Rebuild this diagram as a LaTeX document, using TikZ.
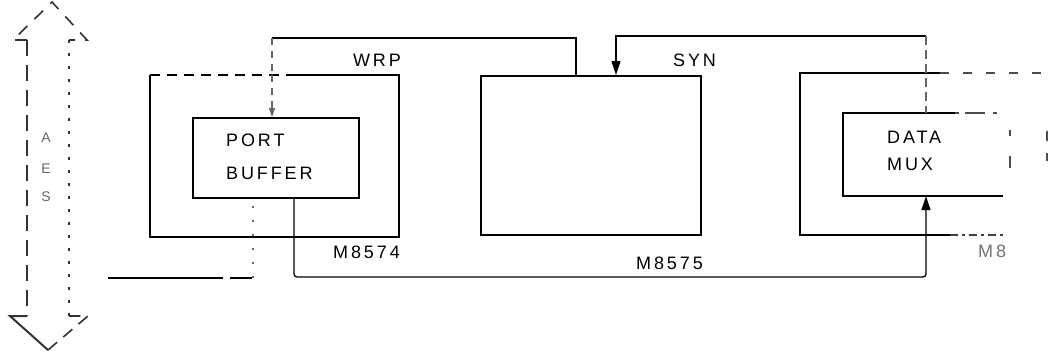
\documentclass[tikz,border=0pt]{standalone}
\usepackage{fontspec}
\setmainfont{Liberation Sans}
\usetikzlibrary{arrows.meta,calc}
\begin{document}
\begin{tikzpicture}[x=1pt,y=-1pt,
  box/.style={line width=2.1pt, inner sep=0pt, anchor=north west, minimum width=#1},
  boxline/.style={line width=2.1pt},
  sig/.style={line width=1.3pt},
  fadesig/.style={line width=1.2pt, draw=black!60, dash pattern=on 7pt off 6pt},
  lbl/.style={font=\fontsize{18}{20}\selectfont\addfontfeature{LetterSpace=16}, inner sep=0pt},
  faintlbl/.style={lbl, text=black!55},
  tip/.style={-{Triangle[length=14pt,width=9pt]}},
  bus/.style={line width=1.6pt, draw=black!80}
]
\useasboundingbox (0,0) rectangle (1053,360);

% ---- bus (double headed arrow shape) ----
\draw[bus, dash pattern=on 16pt off 9pt] (27,40) -- (27,316);
\draw[bus, line width=1.3pt, dash pattern=on 3pt off 10pt] (69,40) -- (69,316);
\draw[bus, dash pattern=on 12pt off 10pt] (27,40) -- (13,40) -- (52,2) -- (87,40) -- (69,40);
\draw[bus, line width=2pt] (27,316) -- (10,316) -- (48,350);
\draw[bus, dash pattern=on 12pt off 8pt] (48,350) -- (88,316) -- (69,316);
\node[font=\fontsize{14}{15}\selectfont, text=black!60, inner sep=0pt] (busA) at (46,138) {A};
\node[font=\fontsize{14}{15}\selectfont, text=black!60, inner sep=0pt] (busE) at (46,169) {E};
\node[font=\fontsize{14}{15}\selectfont, text=black!60, inner sep=0pt] (busS) at (46,197) {S};

% ---- M8574 ----
\node[box=247pt, minimum height=160pt] (m74) at (150,75) {};
\draw[boxline] ($(m74.north west)+(140,0)$) -- (m74.north east) -- (m74.south east) -- (m74.south west) -- (m74.north west);
\draw[boxline, dash pattern=on 10pt off 7pt] (m74.north west) -- ($(m74.north west)+(140,0)$);
\node[box=166pt, minimum height=80pt, draw] (pb) at (192,117) {};
\node[lbl, align=left, anchor=west, font=\fontsize{18}{33}\selectfont\addfontfeature{LetterSpace=16}] (pbt) at (226,157) {PORT\\BUFFER};
\node[lbl, anchor=east] (l74) at (400,252) {M8574};

% ---- M8575 ----
\node[box=220pt, minimum height=159pt, draw] (m75) at (480,75) {};
\node[lbl, anchor=east] (l75) at (703,263) {M8575};

% ---- M8576 (right, partly faded) ----
\node[box=245pt, minimum height=160pt] (m76) at (800,73) {};
\draw[boxline] ($(m76.north west)+(140,0)$) -- (m76.north west) -- (m76.south west) -- ($(m76.south west)+(150,0)$);
\draw[boxline, draw=black!75, dash pattern=on 8pt off 4pt on 3pt off 4pt] ($(m76.south west)+(150,0)$) -- ($(m76.south west)+(205,0)$);
\draw[boxline, draw=black!70, dash pattern=on 9pt off 14pt] ($(m76.north west)+(140,0)$) -- (m76.north east);
\draw[boxline, draw=black!70, dash pattern=on 0pt off 58pt on 10pt off 12pt on 8pt off 80pt] (m76.north east) -- (m76.south east);
\node[box=165pt, minimum height=81pt] (dm) at (843,113) {};
\draw[boxline] ($(dm.north west)+(112,0)$) -- (dm.north west) -- (dm.south west) -- ($(dm.south west)+(160,0)$);
\draw[boxline, draw=black!70, dash pattern=on 4pt off 6pt on 20pt off 8pt] ($(dm.north west)+(112,0)$) -- ($(dm.north west)+(155,0)$);
\draw[boxline, draw=black!70, dash pattern=on 0pt off 17pt on 6pt off 20pt on 12pt off 40pt] (dm.north east) -- (dm.south east);
\node[lbl, align=left, anchor=west, font=\fontsize{18}{27}\selectfont\addfontfeature{LetterSpace=16}] (dmt) at (887,151) {DATA\\MUX};
\node[faintlbl, anchor=west] (l76) at (978,251) {M8};

% ---- signal lines ----
\node[lbl, anchor=east] (wrp) at (401,60) {WRP};
\node[lbl, anchor=west] (syn) at (673,60) {SYN};

\coordinate (wrpL) at (272,38);
\coordinate (wrpR) at (576,38);
\draw[sig] (m75.north west -| wrpR) -- (wrpR) -- (wrpL);
\draw[fadesig] (wrpL) -- (wrpL |- m74.north);
\draw[fadesig, -{Triangle[length=9pt,width=6pt]}] (wrpL |- m74.north) -- (wrpL |- pb.north);

\coordinate (synL) at (616,36);
\coordinate (synR) at (926,36);
\draw[sig, tip] (synR) -- (synL) -- (synL |- m75.north);
\draw[fadesig, dash pattern=on 9pt off 5pt] (synR) -- (synR |- dm.north);

\coordinate (botL) at (294,277);
\coordinate (botR) at (926,277);
\draw[sig, tip, rounded corners=3pt] (botL |- pb.south) -- (botL) -- (botR) -- (botR |- dm.south);

\coordinate (busOut) at (108,278);
\coordinate (busCorner) at (253,278);
\draw[sig, line width=1.6pt] (busOut) -- (215,278);
\draw[sig, line width=1.6pt, dash pattern=on 8pt off 7pt on 22pt off 40pt] (215,278) -- (busCorner);
\draw[line width=1.2pt, draw=black!60, dash pattern=on 2pt off 12pt] (busCorner) -- (busCorner |- pb.south);
\end{tikzpicture}
\end{document}
